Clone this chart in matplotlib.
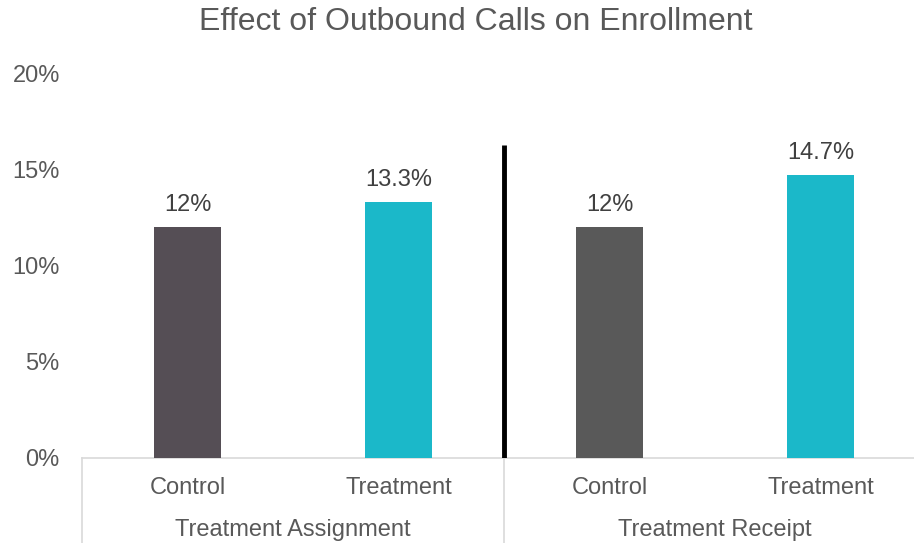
import matplotlib.pyplot as plt
from matplotlib import ticker

plt.rcParams['font.family'] = ['Liberation Sans', 'DejaVu Sans']

# chart data
categories = ["Control", "Treatment", "Control", "Treatment"]
groups = ["Treatment Assignment", "Treatment Receipt"]
values = [12.0, 13.3, 12.0, 14.7]
value_labels = ["12%", "13.3%", "12%", "14.7%"]
bar_colors = ["#554E55", "#1BB8C9", "#595959", "#1BB8C9"]
divider_top = 16.25

text_col = "#595959"
grid_col = "#D9D9D9"

fig = plt.figure(figsize=(9.14, 5.43), dpi=100)
W, H = 914, 543
# plot area in pixels: x 82..926, y 73..458
ax = fig.add_axes([82 / W, (H - 458) / H, (926 - 82) / W, (458 - 73) / H])

xs = list(range(len(values)))
bars = ax.bar(xs, values, width=0.315, color=bar_colors, zorder=3)

for x, v, lab in zip(xs, values, value_labels):
    ax.annotate(lab, (x, v), xytext=(0, 8), textcoords="offset points",
                ha="center", va="bottom", fontsize=17, color="#404040")

ax.set_xlim(-0.5, 3.5)
ax.set_ylim(0, 20)
ax.yaxis.set_major_locator(ticker.MultipleLocator(5))
ax.yaxis.set_major_formatter(ticker.FuncFormatter(lambda v, p: "%d%%" % v))
ax.tick_params(axis="y", length=0, labelsize=17, labelcolor=text_col, pad=16)
ax.tick_params(axis="x", length=0, labelsize=17, labelcolor=text_col, pad=13.5)
ax.set_xticks(xs)
ax.set_xticklabels(categories)

for s in ["top", "right", "left"]:
    ax.spines[s].set_visible(False)
ax.spines["bottom"].set_color(grid_col)
ax.spines["bottom"].set_linewidth(1.2)

# black divider between groups
ax.plot([1.5, 1.5], [0, divider_top], color="black", lw=3.5, zorder=4,
        solid_capstyle="butt")

# group separators below axis and group labels
trans = ax.get_xaxis_transform()
for xv in [-0.5, 1.5]:
    ax.plot([xv, xv], [0, -0.25], color=grid_col, lw=1.2, transform=trans,
            clip_on=False)
for i, g in enumerate(groups):
    ax.text(2 * i + 0.5, -0.187, g, transform=trans, ha="center", va="center",
            fontsize=17, color=text_col)

fig.text(476 / W, 1 - 22 / H, "Effect of Outbound Calls on Enrollment",
         ha="center", va="center", fontsize=23, color=text_col)

fig.savefig("out.png", dpi=100)
